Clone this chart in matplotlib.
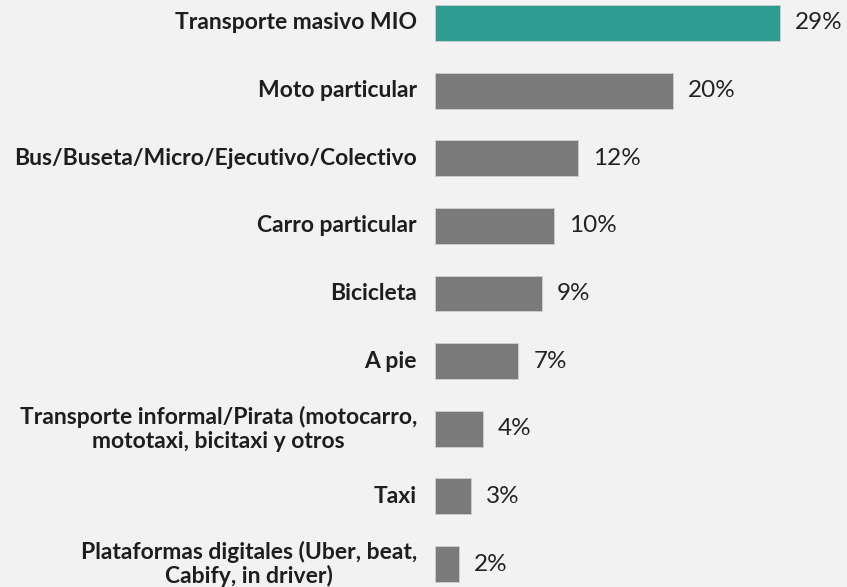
import matplotlib
matplotlib.use("Agg")
import matplotlib.pyplot as plt

categories = [
    "Transporte masivo MIO",
    "Moto particular",
    "Bus/Buseta/Micro/Ejecutivo/Colectivo",
    "Carro particular",
    "Bicicleta",
    "A pie",
    "Transporte informal/Pirata (motocarro,\nmototaxi, bicitaxi y otros",
    "Taxi",
    "Plataformas digitales (Uber, beat,\nCabify, in driver)",
]
values = [29, 20, 12, 10, 9, 7, 4, 3, 2]
value_labels = ["29%", "20%", "12%", "10%", "9%", "7%", "4%", "3%", "2%"]

bg = "#f2f2f2"
colors = ["#2e9c91"] + ["#7a7a7a"] * (len(values) - 1)

W, H = 847, 587
fig = plt.figure(figsize=(W / 100, H / 100), dpi=100, facecolor=bg)
ax = fig.add_axes([435 / W, 0, 1 - 435 / W, 1])
ax.set_facecolor(bg)

ypos = list(range(len(values)))
ax.barh(ypos, values, height=0.53, color=colors, edgecolor="#cfcfcf", linewidth=0.6)
ax.set_xlim(0, (W - 435) / 11.9)
ax.set_ylim(8.34, -0.34)
ax.axis("off")

for y, v, lab in zip(ypos, values, value_labels):
    ax.annotate(lab, (v, y), xytext=(15, 0), textcoords="offset pixels",
                va="center", ha="left", fontsize=17.5, color="#222222", family="Lato",
                annotation_clip=False)

for y, c in zip(ypos, categories):
    ax.annotate(c, (0, y), xytext=(-18, 0), textcoords="offset pixels",
                va="center", ha="right", multialignment="center", fontsize=16.5,
                fontweight="bold", color="#1e1e1e", family="Lato", linespacing=1.15,
                annotation_clip=False)

fig.savefig("out.png", dpi=100, facecolor=bg)
